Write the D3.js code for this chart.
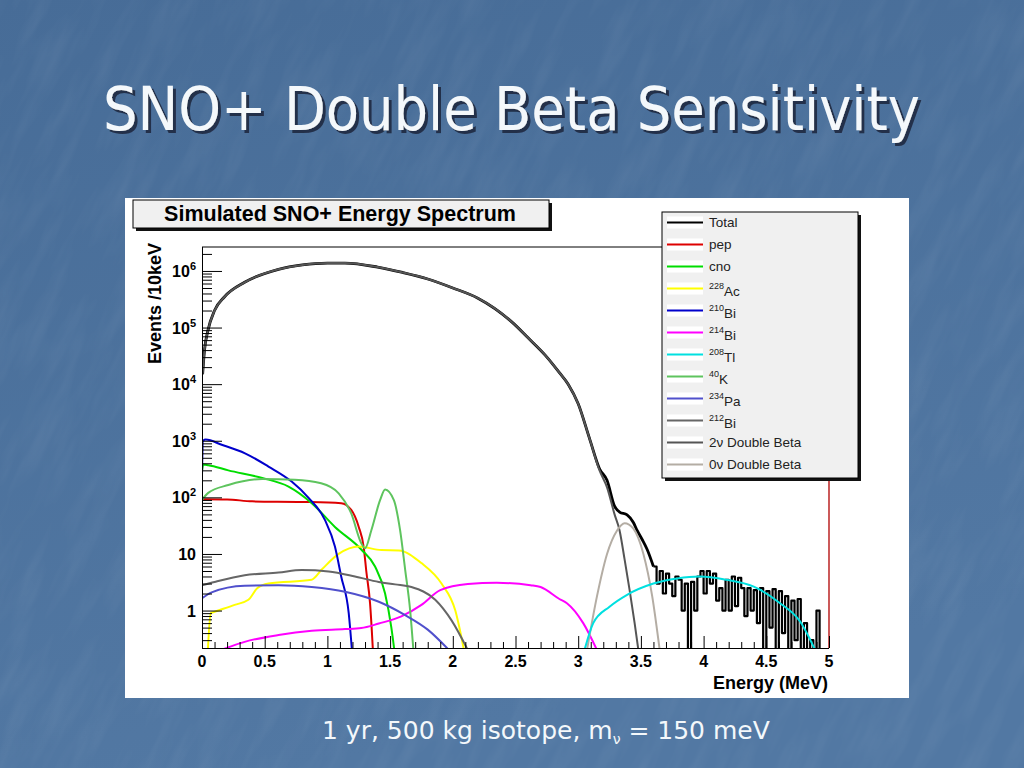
<!DOCTYPE html>
<html>
<head>
<meta charset="utf-8">
<script src="https://cdn.jsdelivr.net/npm/d3@7"></script>
<style>
  html, body { margin: 0; padding: 0; background: #4d74a0; }
  svg { display: block; }
</style>
</head>
<body>
<svg id="slide" width="1024" height="768"></svg>
<script>
// ---- data (energy in MeV, events / 10 keV) ----
const xTicks = [0, 0.5, 1, 1.5, 2, 2.5, 3, 3.5, 4, 4.5, 5]
const xTickLabels = ["0", "0.5", "1", "1.5", "2", "2.5", "3", "3.5", "4", "4.5", "5"]
const yTicks = [1, 10, 100, 1e3, 1e4, 1e5, 1e6]
const yTickExp = [null, null, 2, 3, 4, 5, 6]

const totalSmooth = [[0.005, 1.5e4], [0.02, 4e4], [0.048, 9e4], [0.1, 2e5], [0.18, 3.5e5], [0.34, 6.3e5],
  [0.61, 1.07e6], [0.8, 1.28e6], [1.0, 1.38e6], [1.14, 1.38e6], [1.4, 1.17e6], [1.6, 9.4e5], [1.8, 7.2e5],
  [2.0, 5e5], [2.2, 3.3e5], [2.47, 1.26e5], [2.6, 6.6e4], [2.74, 3.2e4], [2.85, 1.6e4], [2.92, 1e4],
  [3.0, 4.5e3], [3.09, 1.1e3], [3.17, 320], [3.23, 200], [3.29, 70], [3.33, 55], [3.39, 49], [3.44, 36],
  [3.47, 26], [3.51, 18], [3.55, 12], [3.6, 6]]
// noisy high-energy tail, one value per 25 keV bin starting at 3.6 MeV (0.1 = empty bin)
const tailStart = 3.6
const tailBin = 0.025
const totalTail = [6, 3, 5, 2, 4.5, 3, 1.8, 4, 3.5, 1, 3, 0.1, 3.2, 1, 4, 5, 2, 5, 3, 4.5, 1.5, 2.5, 1,
  3.5, 1, 4, 1.2, 3.8, 2.5, 0.8, 2.5, 1, 2.3, 0.6, 2.5, 0.1, 2.2, 0.5, 2.4, 0.1, 2.2, 0.4, 1.8, 0.1, 1.5,
  0.3, 1.6, 0.1, 0.6, 0.1, 0.3, 0.1, 1, 0.1]

const pep = [[0, 93], [0.2, 92], [0.4, 85], [0.8, 83], [1.11, 79], [1.19, 60], [1.25, 30], [1.29, 13],
  [1.31, 5], [1.34, 1.35], [1.37, 0.1]]
const cno = [[0, 290], [0.01, 380], [0.05, 370], [0.21, 300], [0.48, 220], [0.69, 155], [0.875, 79],
  [1.06, 30], [1.27, 12], [1.38, 6], [1.46, 2], [1.51, 0.5], [1.55, 0.1]]
const ac228 = [[0.04, 0.1], [0.07, 0.9], [0.1, 0.95], [0.26, 1.26], [0.37, 1.55], [0.44, 2.47], [0.53, 3],
  [0.875, 3.5], [0.955, 5.3], [1.09, 10], [1.25, 13.5], [1.43, 11.7], [1.57, 11.5], [1.75, 6.9],
  [1.91, 3], [2.02, 1], [2.1, 0.15]]
const bi210 = [[0, 250], [0.008, 1000], [0.03, 1050], [0.157, 850], [0.343, 600], [0.53, 350],
  [0.715, 190], [0.85, 98], [0.98, 40], [1.06, 13.5], [1.11, 4], [1.17, 0.9], [1.2, 0.15]]
const bi214 = [[0.15, 0.2], [0.34, 0.28], [0.61, 0.37], [0.875, 0.44], [1.14, 0.47], [1.27, 0.49],
  [1.41, 0.59], [1.59, 0.79], [1.75, 1.26], [1.9, 2.3], [2.12, 2.95], [2.35, 3.1], [2.62, 2.8],
  [2.7, 2.6], [2.85, 1.6], [2.91, 1.35], [3.04, 0.6], [3.15, 0.2]]
const tl208 = [[3.05, 0.2], [3.12, 0.6], [3.25, 1.17], [3.39, 1.9], [3.6, 3], [3.79, 3.7], [3.97, 4],
  [4.18, 3.5], [4.4, 2.64], [4.61, 1.35], [4.77, 0.64], [4.89, 0.2]]
const k40 = [[0, 90], [0.05, 120], [0.21, 165], [0.48, 210], [0.74, 205], [0.95, 178], [1.09, 118],
  [1.19, 52], [1.27, 15.5], [1.3, 12.6], [1.35, 26], [1.42, 89], [1.46, 138], [1.53, 89], [1.58, 26],
  [1.62, 5.3], [1.66, 1], [1.69, 0.15]]
const pa234 = [[0, 1.65], [0.077, 2.1], [0.34, 2.75], [0.61, 2.8], [0.875, 2.6], [1.14, 2.15],
  [1.41, 1.43], [1.62, 0.83], [1.8, 0.46], [1.97, 0.2]]
const bi212 = [[0, 2.8], [0.1, 3.2], [0.34, 4.2], [0.61, 4.7], [0.795, 5.2], [1.01, 4.9], [1.22, 4],
  [1.41, 3.2], [1.54, 2.9], [1.67, 2.6], [1.86, 1.55], [1.99, 0.67], [2.12, 0.2]]
const twoNu = [[0.005, 1.5e4], [0.02, 4e4], [0.048, 9e4], [0.1, 2e5], [0.18, 3.5e5], [0.34, 6.3e5],
  [0.61, 1.07e6], [0.8, 1.28e6], [1.0, 1.38e6], [1.14, 1.38e6], [1.4, 1.17e6], [1.6, 9.4e5], [1.8, 7.2e5],
  [2.0, 5e5], [2.2, 3.3e5], [2.47, 1.26e5], [2.6, 6.6e4], [2.74, 3.2e4], [2.85, 1.6e4], [2.92, 1e4],
  [3.0, 4.5e3], [3.09, 1.1e3], [3.17, 300], [3.23, 150], [3.29, 50], [3.33, 26], [3.37, 8], [3.41, 2.3],
  [3.45, 0.6], [3.48, 0.2]]
const zeroNu = [[3.07, 0.2], [3.15, 1.8], [3.23, 10], [3.31, 26], [3.37, 35], [3.44, 28], [3.52, 10],
  [3.59, 1.8], [3.65, 0.2]]

const legendNames = [["", "Total"], ["", "pep"], ["", "cno"], ["228", "Ac"], ["210", "Bi"], ["214", "Bi"],
  ["208", "Tl"], ["40", "K"], ["234", "Pa"], ["212", "Bi"], ["", "2\u03bd Double Beta"], ["", "0\u03bd Double Beta"]]
const legendColors = ["#000000", "#dd0000", "#00dd00", "#ffff00", "#0000cc", "#ff00ff", "#00e0e0",
  "#5ec45e", "#5050cc", "#666666", "#555555", "#b4ada4"]

// ---- layout ----
const svg = d3.select("#slide")
const FONT = "'Liberation Sans', Arial, sans-serif"
const SLIDE_FONT = "'DejaVu Sans', Verdana, sans-serif"
const plot = {left: 202, right: 829, top: 247, bottom: 648}

const x = d3.scaleLinear().domain([0, 5]).range([plot.left, plot.right])
const y = d3.scaleLog().domain([0.218, 2.65e6]).range([plot.bottom, plot.top])

// background
const defs = svg.append("defs")
const grad = defs.append("linearGradient").attr("id", "bg").attr("x1", 0).attr("y1", 0).attr("x2", 0.3).attr("y2", 1)
grad.append("stop").attr("offset", "0%").attr("stop-color", "#476c97")
grad.append("stop").attr("offset", "100%").attr("stop-color", "#5278a3")
const tex = defs.append("filter").attr("id", "tex").attr("x", 0).attr("y", 0).attr("width", 1).attr("height", 1)
tex.append("feTurbulence").attr("type", "fractalNoise").attr("baseFrequency", "0.06 0.012").attr("numOctaves", 3).attr("seed", 7)
tex.append("feColorMatrix").attr("values", "0 0 0 0 1  0 0 0 0 1  0 0 0 0 1  0 0 0 0.45 -0.18")
const shadow = defs.append("filter").attr("id", "shadow").attr("x", -0.05).attr("y", -0.2).attr("width", 1.1).attr("height", 1.4)
shadow.append("feDropShadow").attr("dx", 3).attr("dy", 3).attr("stdDeviation", 0.6)
  .attr("flood-color", "#1b2a40").attr("flood-opacity", 0.9)
defs.append("clipPath").attr("id", "plotClip").append("rect")
  .attr("x", plot.left).attr("y", plot.top).attr("width", plot.right - plot.left).attr("height", plot.bottom - plot.top)

svg.append("rect").attr("width", 1024).attr("height", 768).attr("fill", "url(#bg)")
svg.append("rect").attr("x", -300).attr("y", -300).attr("width", 1600).attr("height", 1400)
  .attr("filter", "url(#tex)").attr("opacity", 0.22).attr("transform", "rotate(25 512 384)")

// slide title
svg.append("text").attr("x", 103).attr("y", 130).text("SNO+ Double Beta Sensitivity")
  .attr("font-family", SLIDE_FONT).attr("font-size", 60)
  .attr("textLength", 817).attr("lengthAdjust", "spacingAndGlyphs").attr("fill", "#f4f8fb")
  .attr("filter", "url(#shadow)")

// chart image
svg.append("rect").attr("x", 125).attr("y", 198).attr("width", 784).attr("height", 500).attr("fill", "#ffffff")

// histogram title box
svg.append("rect").attr("x", 136).attr("y", 203).attr("width", 416).attr("height", 28).attr("fill", "#111")
svg.append("rect").attr("x", 133).attr("y", 200).attr("width", 416).attr("height", 28)
  .attr("fill", "#f0f0f0").attr("stroke", "#000").attr("stroke-width", 1)
svg.append("text").attr("x", 340).attr("y", 221).attr("text-anchor", "middle")
  .attr("font-family", FONT).attr("font-weight", "bold").attr("font-size", 21.5).attr("fill", "#000")
  .text("Simulated SNO+ Energy Spectrum")

// curves
const line = d3.line().x(d => x(d[0])).y(d => y(Math.max(d[1], 0.05))).curve(d3.curveMonotoneX)
const stepLine = d3.line().x(d => x(d[0])).y(d => y(Math.max(d[1], 0.05))).curve(d3.curveStepAfter)
const curves = svg.append("g").attr("clip-path", "url(#plotClip)").attr("fill", "none")
  .attr("stroke-linejoin", "round")

const tailPts = totalTail.map((v, i) => [tailStart + i * tailBin, v])
tailPts.push([tailStart + totalTail.length * tailBin, totalTail[totalTail.length - 1]])

curves.append("path").attr("d", line(totalSmooth)).attr("stroke", legendColors[0]).attr("stroke-width", 2.8)
curves.append("path").attr("d", stepLine(tailPts)).attr("stroke", legendColors[0]).attr("stroke-width", 2.2)

const drawn = [[pep, 1], [cno, 2], [ac228, 3], [bi210, 4], [bi214, 5], [k40, 7], [pa234, 8], [bi212, 9],
  [twoNu, 10], [zeroNu, 11], [tl208, 6]]
drawn.forEach(([pts, c]) => {
  curves.append("path").attr("d", line(pts)).attr("stroke", legendColors[c]).attr("stroke-width", 2)
})

// frame
svg.append("line").attr("x1", plot.left).attr("x2", plot.right).attr("y1", plot.top).attr("y2", plot.top).attr("stroke", "#000")
svg.append("line").attr("x1", plot.right).attr("x2", plot.right).attr("y1", plot.top).attr("y2", plot.bottom).attr("stroke", "#b00000").attr("stroke-width", 1.3)

// y axis, ticks pointing into the plot
const yMinor = []
for (let e = -1; e <= 6; e++) {
  for (let m = 2; m <= 9; m++) {
    const v = m * Math.pow(10, e)
    if (v > y.domain()[0] && v < y.domain()[1]) yMinor.push(v)
  }
}
svg.append("g").attr("transform", `translate(${plot.left},0)`)
  .call(d3.axisRight(y).tickValues(yMinor).tickSize(10).tickFormat(""))
  .call(g => g.select(".domain").remove())
svg.append("g").attr("transform", `translate(${plot.left},0)`)
  .call(d3.axisRight(y).tickValues(yTicks).tickSize(20).tickFormat(""))
  .call(g => g.select(".domain").attr("d", `M0.5,${plot.top}V${plot.bottom}`))

const yLab = svg.append("g").attr("font-family", FONT).attr("font-weight", "bold").attr("fill", "#000")
yTicks.forEach((v, i) => {
  const t = yLab.append("text").attr("x", 196).attr("y", y(v) + 6).attr("text-anchor", "end").attr("font-size", 16)
  if (yTickExp[i] === null) {
    t.text(v === 1 ? "1" : "10")
  } else {
    t.append("tspan").text("10")
    t.append("tspan").attr("dy", -7).attr("font-size", 11).text(yTickExp[i])
  }
})

// x axis, ticks pointing up
const xMinor = d3.range(0, 51).map(i => i / 10).filter(v => Math.round(v * 10) % 5 !== 0)
svg.append("g").attr("transform", `translate(0,${plot.bottom})`)
  .call(d3.axisTop(x).tickValues(xMinor).tickSize(6).tickFormat(""))
  .call(g => g.select(".domain").remove())
svg.append("g").attr("transform", `translate(0,${plot.bottom})`)
  .call(d3.axisTop(x).tickValues(xTicks).tickSize(12).tickFormat(""))
  .call(g => g.select(".domain").attr("d", `M${plot.left},0.5H${plot.right}`))

svg.append("g").attr("font-family", FONT).attr("font-weight", "bold").attr("font-size", 16)
  .selectAll("text").data(xTicks).join("text")
  .attr("x", d => x(d)).attr("y", 667).attr("text-anchor", "middle").text((d, i) => xTickLabels[i])

// axis titles
svg.append("text").attr("transform", "translate(161,243) rotate(-90)").attr("text-anchor", "end")
  .attr("font-family", FONT).attr("font-weight", "bold").attr("font-size", 18).text("Events /10keV")
svg.append("text").attr("x", 828).attr("y", 689).attr("text-anchor", "end")
  .attr("font-family", FONT).attr("font-weight", "bold").attr("font-size", 18).text("Energy (MeV)")

// legend
svg.append("rect").attr("x", 665).attr("y", 215).attr("width", 196).attr("height", 266).attr("fill", "#111")
svg.append("rect").attr("x", 662).attr("y", 212).attr("width", 196).attr("height", 266)
  .attr("fill", "#f0f0f0").attr("stroke", "#000")
const leg = svg.append("g").attr("font-family", FONT).attr("font-size", 13.5).attr("fill", "#222")
legendNames.forEach(([sup, name], i) => {
  const ly = 222.5 + i * 22
  leg.append("rect").attr("x", 667).attr("y", ly - 6).attr("width", 36).attr("height", 12).attr("fill", "#fff")
  leg.append("line").attr("x1", 667).attr("x2", 703).attr("y1", ly).attr("y2", ly)
    .attr("stroke", legendColors[i]).attr("stroke-width", 2)
  const t = leg.append("text").attr("x", 709).attr("y", ly + (sup ? 7 : 4.5))
  if (sup) {
    t.append("tspan").attr("font-size", 9).attr("dy", -7).text(sup)
    t.append("tspan").attr("dy", 7).text(name)
  } else {
    t.text(name)
  }
})

// caption
const cap = svg.append("text").attr("x", 322).attr("y", 739).attr("font-family", SLIDE_FONT)
  .attr("font-size", 25).attr("fill", "#f4f8fb")
cap.append("tspan").text("1 yr, 500 kg isotope, m")
cap.append("tspan").attr("font-size", 14).attr("dy", 5).text("\u03bd")
cap.append("tspan").attr("dy", -5).text(" = 150 meV")
</script>
</body>
</html>
